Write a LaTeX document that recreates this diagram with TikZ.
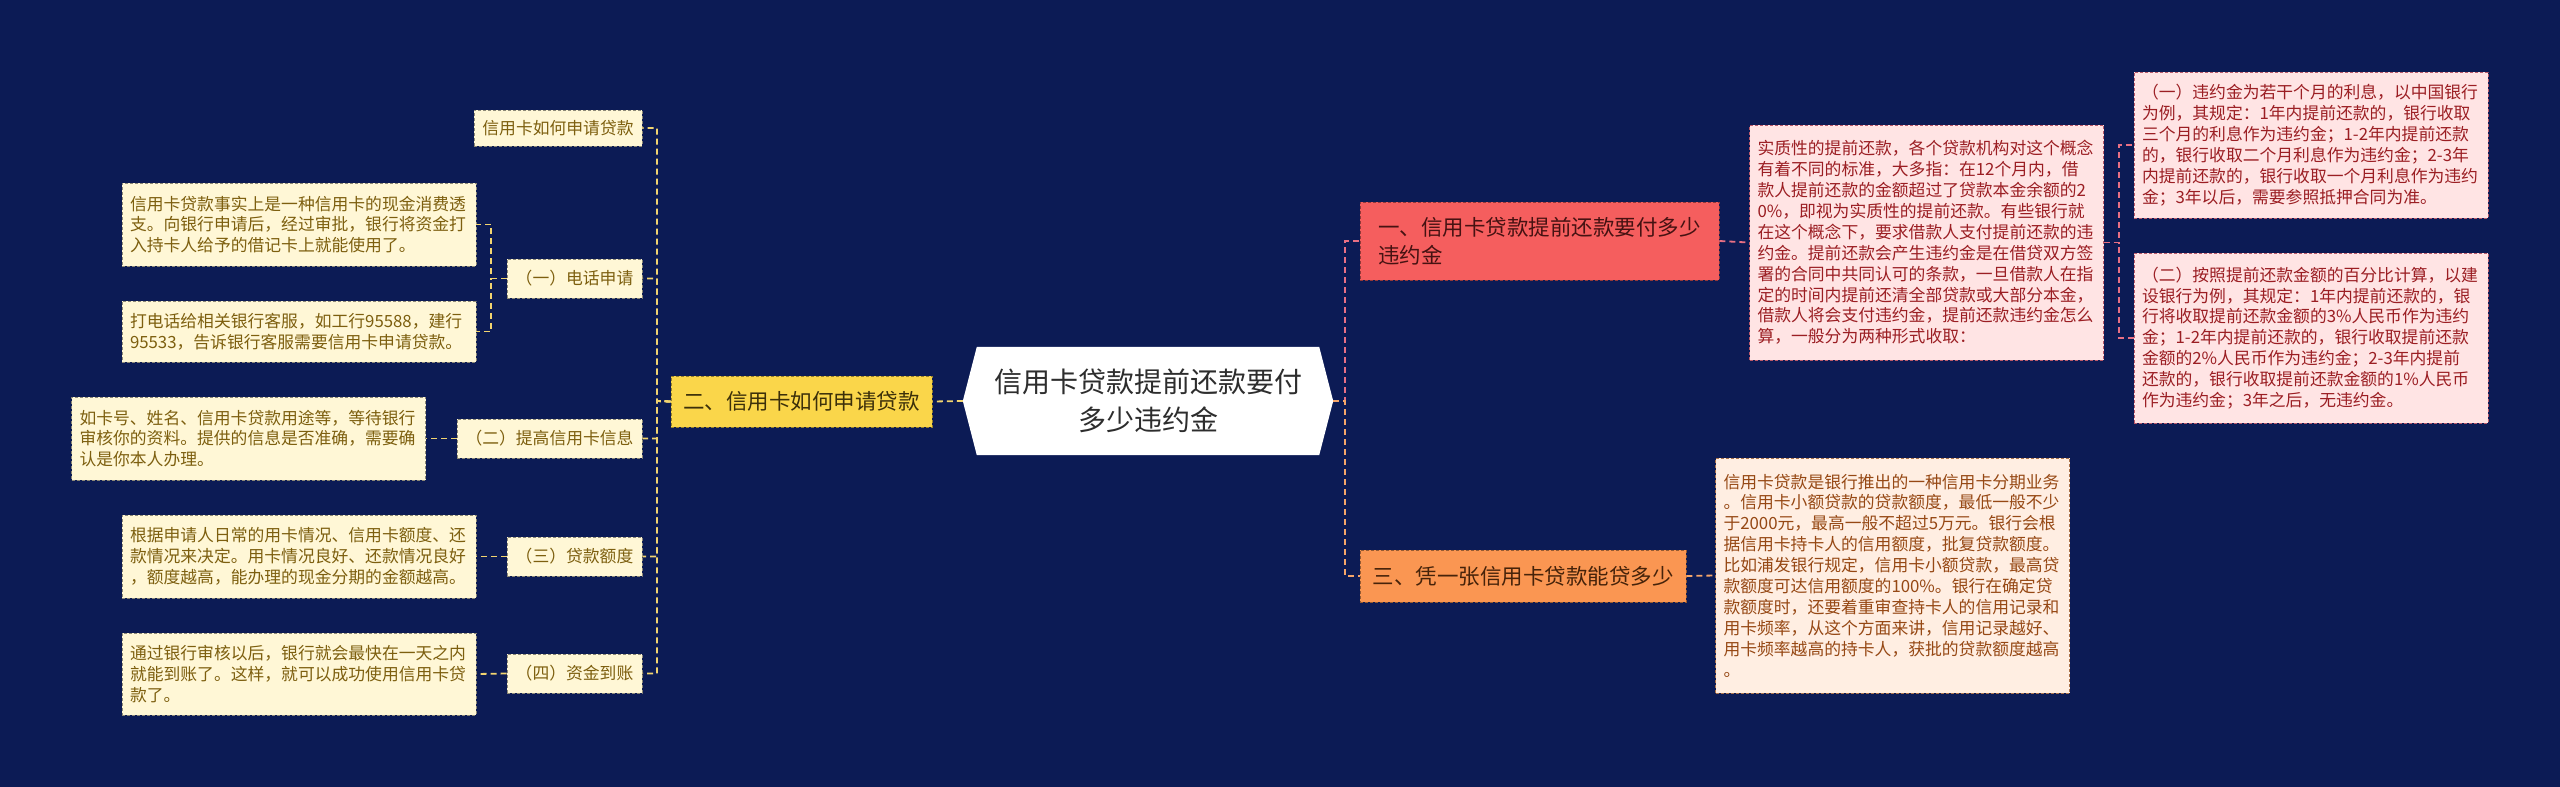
\documentclass[tikz,border=0pt]{standalone}
\usepackage{fontspec}
\setmainfont{Noto Sans CJK SC}
\usetikzlibrary{backgrounds}

\definecolor{navybg}{RGB}{12,27,85}
\definecolor{rootink}{RGB}{45,45,45}
\definecolor{yelmain}{RGB}{250,214,74}
\definecolor{yelink}{RGB}{60,48,10}
\definecolor{yelleaf}{RGB}{255,247,214}
\definecolor{yeltext}{RGB}{125,95,15}
\definecolor{yelline}{RGB}{242,212,112}
\definecolor{redmain}{RGB}{245,94,94}
\definecolor{redink}{RGB}{70,18,18}
\definecolor{redleaf}{RGB}{255,228,228}
\definecolor{redtext}{RGB}{155,30,35}
\definecolor{redline}{RGB}{232,112,132}
\definecolor{ormain}{RGB}{250,150,82}
\definecolor{orink}{RGB}{70,35,10}
\definecolor{orleaf}{RGB}{255,238,226}
\definecolor{ortext}{RGB}{150,72,20}
\definecolor{orline}{RGB}{245,165,105}

\tikzset{
  rootnode/.style={font=\fontsize{28}{38}\selectfont, text=rootink, align=center,
    minimum width=370pt, minimum height=108pt, inner sep=0pt},
  mainbox/.style={font=\fontsize{21.5}{28}\selectfont, align=left, inner ysep=0pt,
    draw, densely dashed, line width=0.8pt},
  subbox/.style={font=\fontsize{16.8}{20.9}\selectfont, align=center, inner sep=0pt,
    minimum height=39pt, draw, densely dashed, line width=0.8pt},
  leafbox/.style={font=\fontsize{16.8}{20.9}\selectfont, align=left, text width=338pt,
    inner xsep=8pt, inner ysep=0pt, draw, densely dashed, line width=0.8pt},
  yleaf/.style={fill=yelleaf, text=yeltext, draw=yelleaf!55!black},
  rleaf/.style={fill=redleaf, text=redtext, draw=redline!80!black},
  oleaf/.style={fill=orleaf, text=ortext, draw=orline!70!black},
  link/.style={line width=1.8pt, dash pattern=on 6pt off 4pt},
  ylink/.style={link, draw=yelline},
  rlink/.style={link, draw=redline},
  olink/.style={link, draw=orline}
}

\begin{document}
\begin{tikzpicture}[x=1pt, y=-1pt]
\useasboundingbox (0,0) rectangle (2560,787);

% centre
\node[rootnode] (root) at (1148,401) {信用卡贷款提前还款要付\\多少违约金};

% main branches
\node[mainbox, fill=yelmain, text=yelink, draw=yelmain!60!black, inner xsep=12pt,
  minimum width=261pt, minimum height=51pt, align=center] (two) at (801.5,401.5) {二、信用卡如何申请贷款};
\node[mainbox, fill=redmain, text=redink, draw=redmain!60!black, inner xsep=18pt,
  text width=323pt, minimum height=78pt] (one) at (1539.5,241) {一、信用卡贷款提前还款要付多少\\违约金};
\node[mainbox, fill=ormain, text=orink, draw=ormain!60!black, inner xsep=12pt,
  minimum width=326pt, minimum height=52pt, align=center] (three) at (1523,576) {三、凭一张信用卡贷款能贷多少};

% left side
\node[subbox, yleaf, minimum width=168pt, minimum height=36pt] (L0) at (558,128) {信用卡如何申请贷款};
\node[subbox, yleaf, minimum width=135pt] (L1) at (574.5,278.5) {（一）电话申请};
\node[subbox, yleaf, minimum width=185pt] (L2) at (549.5,438.5) {（二）提高信用卡信息};
\node[subbox, yleaf, minimum width=135pt] (L3) at (574.5,556.5) {（三）贷款额度};
\node[subbox, yleaf, minimum width=135pt] (L4) at (574.5,673.5) {（四）资金到账};

\node[leafbox, yleaf, minimum height=83pt] (L1a) at (299,224.5) {信用卡贷款事实上是一种信用卡的现金消费透\\支。向银行申请后，经过审批，银行将资金打\\入持卡人给予的借记卡上就能使用了。};
\node[leafbox, yleaf, minimum height=61pt] (L1b) at (299,331.5) {打电话给相关银行客服，如工行95588，建行\\95533，告诉银行客服需要信用卡申请贷款。};
\node[leafbox, yleaf, minimum height=83pt] (L2a) at (248.5,438.5) {如卡号、姓名、信用卡贷款用途等，等待银行\\审核你的资料。提供的信息是否准确，需要确\\认是你本人办理。};
\node[leafbox, yleaf, minimum height=83pt] (L3a) at (299,556.5) {根据申请人日常的用卡情况、信用卡额度、还\\款情况来决定。用卡情况良好、还款情况良好\\，额度越高，能办理的现金分期的金额越高。};
\node[leafbox, yleaf, minimum height=82pt] (L4a) at (299,674) {通过银行审核以后，银行就会最快在一天之内\\就能到账了。这样，就可以成功使用信用卡贷\\款了。};

% right side
\node[leafbox, rleaf, minimum height=235pt] (R0) at (1926.5,242.5) {实质性的提前还款，各个贷款机构对这个概念\\有着不同的标准，大多指：在12个月内，借\\款人提前还款的金额超过了贷款本金余额的2\\0\%，即视为实质性的提前还款。有些银行就\\在这个概念下，要求借款人支付提前还款的违\\约金。提前还款会产生违约金是在借贷双方签\\署的合同中共同认可的条款，一旦借款人在指\\定的时间内提前还清全部贷款或大部分本金，\\借款人将会支付违约金，提前还款违约金怎么\\算，一般分为两种形式收取：};
\node[leafbox, rleaf, minimum height=146pt] (R1) at (2311,145) {（一）违约金为若干个月的利息，以中国银行\\为例，其规定：1年内提前还款的，银行收取\\三个月的利息作为违约金；1-2年内提前还款\\的，银行收取二个月利息作为违约金；2-3年\\内提前还款的，银行收取一个月利息作为违约\\金；3年以后，需要参照抵押合同为准。};
\node[leafbox, rleaf, minimum height=170pt] (R2) at (2311,338) {（二）按照提前还款金额的百分比计算，以建\\设银行为例，其规定：1年内提前还款的，银\\行将收取提前还款金额的3\%人民币作为违约\\金；1-2年内提前还款的，银行收取提前还款\\金额的2\%人民币作为违约金；2-3年内提前\\还款的，银行收取提前还款金额的1\%人民币\\作为违约金；3年之后，无违约金。};
\node[leafbox, oleaf, minimum height=235pt] (O0) at (1892.5,575.5) {信用卡贷款是银行推出的一种信用卡分期业务\\。信用卡小额贷款的贷款额度，最低一般不少\\于2000元，最高一般不超过5万元。银行会根\\据信用卡持卡人的信用额度，批复贷款额度。\\比如浦发银行规定，信用卡小额贷款，最高贷\\款额度可达信用额度的100\%。银行在确定贷\\款额度时，还要着重审查持卡人的信用记录和\\用卡频率，从这个方面来讲，信用记录越好、\\用卡频率越高的持卡人，获批的贷款额度越高\\。};

% joints
\coordinate (ljoin) at (657,401);
\coordinate (l1join) at (491,278.5);
\coordinate (rjoin) at (1345,401);
\coordinate (r0join) at (2119,242.5);

% connectors
\draw[ylink] (root.west) -- (two.east);
\foreach \n in {L0,L1,L2,L3,L4}
  \draw[ylink] (two.west) -- (ljoin) |- (\n.east);
\foreach \n in {L1a,L1b}
  \draw[ylink] (L1.west) -- (l1join) |- (\n.east);
\draw[ylink] (L2.west) -- (L2a.east);
\draw[ylink] (L3.west) -- (L3a.east);
\draw[ylink] (L4.west) -- (L4a.east);

\draw[rlink] (root.east) -- (rjoin) |- (one.west);
\draw[olink] (root.east) -- (rjoin) |- (three.west);
\draw[rlink] (one.east) -- (R0.west);
\foreach \n in {R1,R2}
  \draw[rlink] (R0.east) -- (r0join) |- (\n.west);
\draw[olink] (three.east) -- (O0.west);

\begin{scope}[on background layer]
  \fill[navybg] (0,0) rectangle (2560,787);
  \fill[white] (root.west) -- ([xshift=14pt]root.north west) -- ([xshift=-14pt]root.north east)
    -- (root.east) -- ([xshift=-14pt]root.south east) -- ([xshift=14pt]root.south west) -- cycle;
\end{scope}
\end{tikzpicture}
\end{document}
